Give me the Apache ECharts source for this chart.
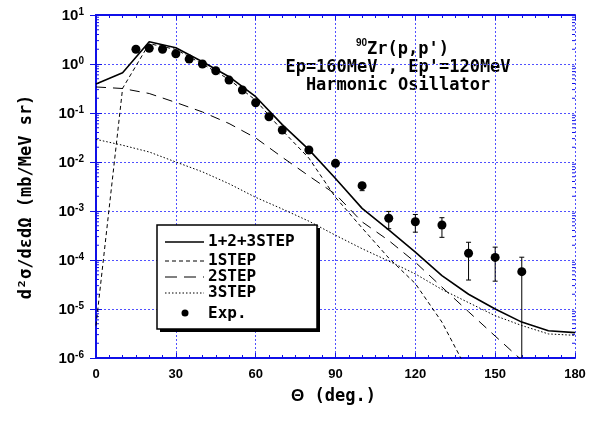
<!DOCTYPE html>
<html>
<head>
<meta charset="utf-8">
<script src="https://cdn.jsdelivr.net/npm/echarts@6/dist/echarts.min.js"></script>
<style>
  html, body { margin: 0; padding: 0; background: #fff; }
  #main { width: 594px; height: 421px; }
</style>
</head>
<body>
<div id="main"></div>
<script>
// 计算角度（10度一步）
const deg = [0, 10, 20, 30, 40, 50, 60, 70, 80, 90, 100, 110, 120, 130, 140, 150, 160, 170, 180];
const total = [0.39, 0.666, 2.85, 2.15, 1.11, 0.55, 0.215, 0.058, 0.0179, 0.0046, 0.00113, 0.00041,
    0.000145, 0.000048, 0.00002, 0.00001, 0.0000054, 0.0000036, 0.0000033];
const step1 = [0.0000046, 0.32, 2.6, 1.98, 1.0, 0.485, 0.182, 0.044, 0.012, 0.0019, 0.00045, 0.00011,
    0.000033, 0.0000054, 0.0000005, 0.00000005, 0.000000005, 0.0000000005, 0.00000000005];
const step2 = [0.34, 0.316, 0.25, 0.164, 0.105, 0.061, 0.031, 0.0125, 0.0052, 0.0022, 0.0006, 0.00025,
    0.00009, 0.000028, 0.0000088, 0.0000028, 0.0000009, 0.0000005, 0.0000004];
const step3 = [0.029, 0.022, 0.016, 0.01, 0.0063, 0.0036, 0.0019, 0.0011, 0.00062, 0.00032, 0.00017,
    0.000095, 0.000052, 0.000025, 0.0000135, 0.0000073, 0.0000046, 0.0000031, 0.0000029];

// 实验数据
const expDeg = [15, 20, 25, 30, 35, 40, 45, 50, 55, 60, 65, 70, 80, 90, 100, 110, 120, 130, 140, 150, 160];
const expVal = [2.0, 2.1, 2.0, 1.62, 1.26, 1.0, 0.73, 0.47, 0.295, 0.162, 0.084, 0.045, 0.0176, 0.0094,
    0.00329, 0.00071, 0.000605, 0.000518, 0.000137, 0.000113, 0.0000578];
const errDeg = [100, 110, 120, 130, 140, 150, 160];
const errLow = [0.0026, 0.000435, 0.00037, 0.00029, 0.000039, 0.000037, 0.0000001];
const errHigh = [0.0037, 0.00098, 0.00085, 0.00073, 0.00023, 0.000183, 0.000114];

const minorLogTicks = [];
for (let e = -6; e <= 0; e++) {
    for (let m = 2; m <= 9; m++) minorLogTicks.push(+(m + "e" + e));
}

const BLUE = "#1010e8";
const GRIDBLUE = "#5050ff";
const mono = "DejaVu Sans Mono";

const chart = echarts.init(document.getElementById("main"));

const pair = (xs, ys) => xs.map((x, i) => [x, ys[i]]);

const yLabel = (v) => {
    const e = Math.round(Math.log10(v));
    return "{a|10}{b|" + e + "}";
};

chart.setOption({
    animation: false,
    grid: { left: 96, right: 19, top: 15, bottom: 63 },
    xAxis: [
        {
            type: "value", min: 0, max: 180, interval: 30,
            axisLine: { lineStyle: { color: BLUE, width: 2 } },
            axisTick: { inside: true, length: 5, lineStyle: { color: BLUE, width: 1 } },
            minorTick: { show: true, splitNumber: 6, length: 3, lineStyle: { color: BLUE } },
            axisLabel: { margin: 10, color: "#000", fontFamily: "Liberation Sans", fontWeight: "bold", fontSize: 13 },
            splitLine: { show: true, lineStyle: { color: GRIDBLUE, type: [2, 2], width: 1 } },
        },
        {
            type: "value", min: 0, max: 180, interval: 30, position: "top",
            axisLine: { lineStyle: { color: BLUE, width: 2 } },
            axisTick: { inside: true, length: 5, lineStyle: { color: BLUE } },
            minorTick: { show: true, splitNumber: 6, length: 3, lineStyle: { color: BLUE } },
            axisLabel: { show: false },
            splitLine: { show: false },
        },
    ],
    yAxis: [
        {
            type: "log", min: 1e-6, max: 10, interval: 1, logBase: 10,
            axisLine: { show: true, lineStyle: { color: BLUE, width: 2 } },
            axisTick: { inside: true, length: 6, lineStyle: { color: BLUE } },
            axisLabel: {
                margin: 12, formatter: yLabel,
                rich: {
                    a: { fontFamily: "Liberation Sans", fontWeight: "bold", fontSize: 15, color: "#000", lineHeight: 16, verticalAlign: "bottom" },
                    b: { fontFamily: "Liberation Sans", fontWeight: "bold", fontSize: 10, color: "#000", lineHeight: 16, verticalAlign: "top", padding: [0, 0, 5, 0] },
                },
            },
            splitLine: { show: true, lineStyle: { color: GRIDBLUE, type: [2, 2], width: 1 } },
        },
        {
            type: "log", min: 1e-6, max: 10, interval: 1, logBase: 10, position: "right",
            axisLine: { show: true, lineStyle: { color: BLUE, width: 2 } },
            axisTick: { inside: true, length: 6, lineStyle: { color: BLUE } },
            axisLabel: { show: false },
            splitLine: { show: false },
        },
    ],
    series: [
        {
            name: "1+2+3STEP", type: "line", data: pair(deg, total), showSymbol: false,
            lineStyle: { color: "#000", width: 1.6 }, z: 5,
        },
        {
            name: "1STEP", type: "line", data: pair(deg, step1), showSymbol: false,
            lineStyle: { color: "#000", width: 1, type: [4, 3] },
        },
        {
            name: "2STEP", type: "line", data: pair(deg, step2), showSymbol: false,
            lineStyle: { color: "#000", width: 1, type: [10, 7] },
        },
        {
            name: "3STEP", type: "line", data: pair(deg, step3), showSymbol: false,
            lineStyle: { color: "#000", width: 1, type: [1.5, 2] },
        },
        {
            name: "err", type: "custom",
            data: errDeg.map((d, i) => [d, errLow[i], errHigh[i]]),
            renderItem: (params, api) => {
                const x = api.value(0);
                const lo = Math.max(api.value(1), 1e-6);
                const clamped = api.value(1) < 1e-6;
                const p1 = api.coord([x, lo]);
                const p2 = api.coord([x, api.value(2)]);
                const w = 2.5;
                const children = [
                    { type: "line", shape: { x1: p1[0], y1: p1[1], x2: p2[0], y2: p2[1] }, style: { stroke: "#000", lineWidth: 1 } },
                    { type: "line", shape: { x1: p2[0] - w, y1: p2[1], x2: p2[0] + w, y2: p2[1] }, style: { stroke: "#000", lineWidth: 1 } },
                ];
                if (!clamped) {
                    children.push({ type: "line", shape: { x1: p1[0] - w, y1: p1[1], x2: p1[0] + w, y2: p1[1] }, style: { stroke: "#000", lineWidth: 1 } });
                }
                return { type: "group", children };
            },
            z: 6,
        },
        {
            name: "Exp.", type: "scatter", data: pair(expDeg, expVal), symbol: "circle", symbolSize: 9,
            itemStyle: { color: "#000", opacity: 1 }, z: 7,
        },
        {
            // 对数副刻度
            name: "minor", type: "custom", data: minorLogTicks.map((v) => [0, v]),
            renderItem: (params, api) => {
                const v = api.value(1);
                const l = api.coord([0, v]);
                const r = api.coord([180, v]);
                return {
                    type: "group",
                    children: [
                        { type: "line", shape: { x1: l[0], y1: l[1], x2: l[0] + 3, y2: l[1] }, style: { stroke: BLUE, lineWidth: 1 } },
                        { type: "line", shape: { x1: r[0], y1: r[1], x2: r[0] - 3, y2: r[1] }, style: { stroke: BLUE, lineWidth: 1 } },
                    ],
                };
            },
            silent: true, z: 3,
        },
    ],
    graphic: [
        // 标题
        {
            type: "text", left: 356, top: 38,
            style: {
                text: "{s|90}{m|Zr(p,p')}",
                rich: {
                    s: { fontFamily: "Liberation Sans", fontWeight: "bold", fontSize: 10, fill: "#000", verticalAlign: "top", lineHeight: 20 },
                    m: { fontFamily: mono, fontWeight: "bold", fontSize: 17, fill: "#000", verticalAlign: "bottom", lineHeight: 20 },
                },
            },
        },
        {
            type: "text", x: 398, y: 68,
            style: { text: "Ep=160MeV , Ep'=120MeV", font: "bold 17px 'DejaVu Sans Mono'", fill: "#000", textAlign: "center", textVerticalAlign: "middle" },
        },
        {
            type: "text", x: 398, y: 86,
            style: { text: "Harmonic Osillator", font: "bold 17px 'DejaVu Sans Mono'", fill: "#000", textAlign: "center", textVerticalAlign: "middle" },
        },
        // 轴标题
        {
            type: "text", left: 291, top: 388,
            style: {
                text: "{t|Θ}{m| (deg.)}",
                rich: {
                    t: { fontFamily: "Liberation Sans", fontWeight: "bold", fontSize: 17, fill: "#000", lineHeight: 20 },
                    m: { fontFamily: mono, fontWeight: "bold", fontSize: 17, fill: "#000", lineHeight: 20 },
                },
            },
        },
        {
            type: "text", x: 27, y: 197, rotation: Math.PI / 2,
            style: { text: "d²σ/dεdΩ (mb/MeV sr)", font: "bold 17px 'DejaVu Sans Mono'", fill: "#000", textAlign: "center", textVerticalAlign: "middle" },
        },
        // 图例
        { type: "rect", shape: { x: 160, y: 228, width: 160, height: 104 }, style: { fill: "#000" }, z: 100 },
        { type: "rect", shape: { x: 157, y: 225, width: 160, height: 104 }, style: { fill: "#fff", stroke: "#000", lineWidth: 1.5 }, z: 101 },
        { type: "line", shape: { x1: 165, y1: 242, x2: 204, y2: 242 }, style: { stroke: "#000", lineWidth: 1.6 }, z: 102 },
        { type: "line", shape: { x1: 165, y1: 261, x2: 204, y2: 261 }, style: { stroke: "#000", lineWidth: 1, lineDash: [4, 3] }, z: 102 },
        { type: "line", shape: { x1: 165, y1: 277, x2: 204, y2: 277 }, style: { stroke: "#000", lineWidth: 1, lineDash: [12, 7] }, z: 102 },
        { type: "line", shape: { x1: 165, y1: 293, x2: 204, y2: 293 }, style: { stroke: "#000", lineWidth: 1, lineDash: [1.5, 2] }, z: 102 },
        { type: "circle", shape: { cx: 185, cy: 313, r: 3.5 }, style: { fill: "#000" }, z: 102 },
        { type: "text", x: 208, y: 242, style: { text: "1+2+3STEP", font: "bold 16px 'DejaVu Sans Mono'", fill: "#000", textVerticalAlign: "middle" }, z: 102 },
        { type: "text", x: 208, y: 261, style: { text: "1STEP", font: "bold 16px 'DejaVu Sans Mono'", fill: "#000", textVerticalAlign: "middle" }, z: 102 },
        { type: "text", x: 208, y: 277, style: { text: "2STEP", font: "bold 16px 'DejaVu Sans Mono'", fill: "#000", textVerticalAlign: "middle" }, z: 102 },
        { type: "text", x: 208, y: 293, style: { text: "3STEP", font: "bold 16px 'DejaVu Sans Mono'", fill: "#000", textVerticalAlign: "middle" }, z: 102 },
        { type: "text", x: 208, y: 314, style: { text: "Exp.", font: "bold 16px 'DejaVu Sans Mono'", fill: "#000", textVerticalAlign: "middle" }, z: 102 },
    ],
});
</script>
</body>
</html>
